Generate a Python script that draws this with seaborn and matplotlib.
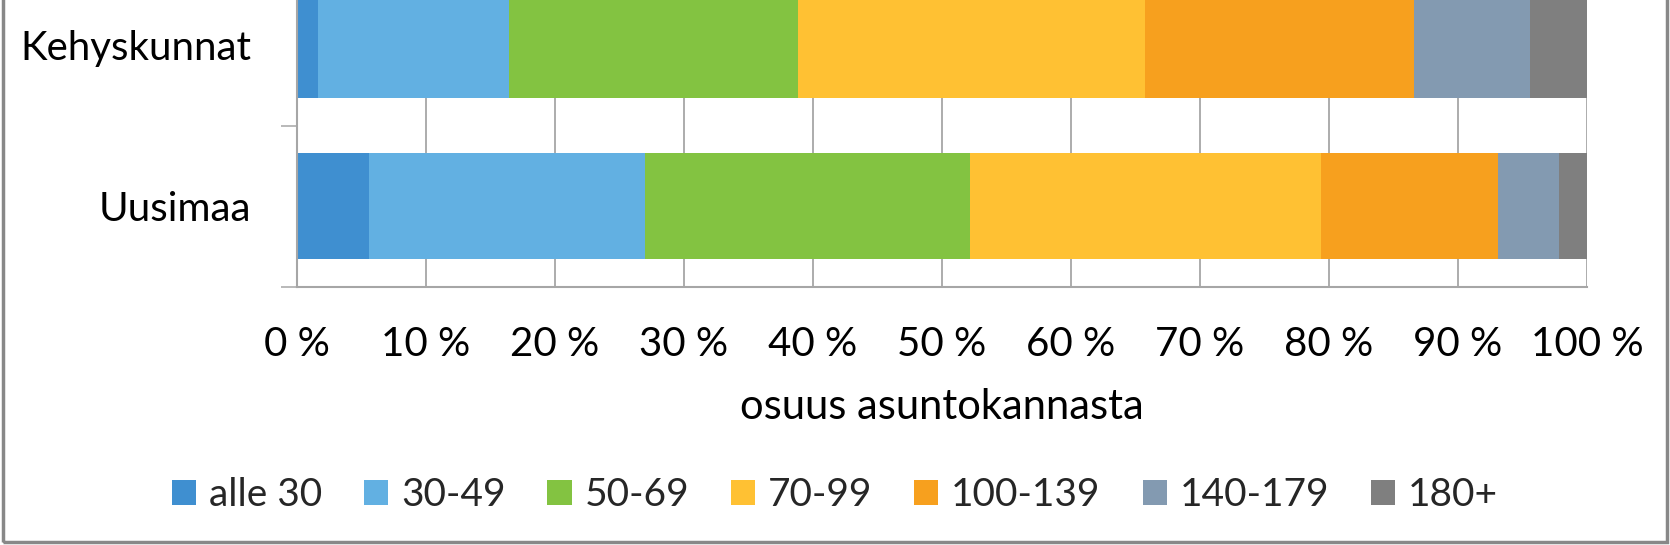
import matplotlib
matplotlib.use("Agg")
import matplotlib.pyplot as plt
import seaborn as sns
import pandas as pd
import numpy as np
from matplotlib.patches import Rectangle, Patch
from matplotlib.ticker import FixedLocator

# ---- data ----
categories = ["Kehyskunnat", "Uusimaa"]
series_names = ["alle 30", "30-49", "50-69", "70-99", "100-139", "140-179", "180+"]
kehyskunnat = [1.6, 14.8, 22.4, 26.9, 20.9, 9.0, 4.4]
uusimaa = [5.6, 21.4, 25.2, 27.2, 13.7, 4.7, 2.2]
colors = ["#3F8FD0", "#62B0E2", "#83C341", "#FFC133", "#F7A01E", "#839AB1", "#7F7F7F"]
xticks = [0, 10, 20, 30, 40, 50, 60, 70, 80, 90, 100]
xlabel = "osuus asuntokannasta"

sns.set_theme(style="white")
plt.rcParams["font.family"] = ["Lato", "DejaVu Sans"]

W, H = 1670, 545
fig = plt.figure(figsize=(W / 100, H / 100), dpi=100)
ax_left = 297 / W
ax_right = 1587 / W
ax_bottom = (H - 286.7) / H
ax = fig.add_axes([ax_left, ax_bottom, ax_right - ax_left, 1 - ax_bottom])

rows = []
for cat, vals in zip(categories, [kehyskunnat, uusimaa]):
    cum = np.cumsum(vals)
    for name, c in zip(series_names, cum):
        rows.append({"cat": cat, "series": name, "cum": c})
df = pd.DataFrame(rows)

# draw from last (largest cumulative) to first so shorter ones overlay
for name, col in reversed(list(zip(series_names, colors))):
    sub = df[df["series"] == name]
    sns.barplot(data=sub, x="cum", y="cat", order=categories, color=col,
                orient="h", width=0.66, linewidth=0, saturation=1, ax=ax)

ax.set_xlim(0, 100)
ax.set_ylim(1.5, -0.281)
ax.set_xticks(xticks)
ax.set_xticklabels([f"{t} %" for t in xticks])
ax.set_yticks([0, 1])
ax.set_yticklabels(categories)
ax.yaxis.set_minor_locator(FixedLocator([-0.5, 0.5, 1.5]))

grid_col = "#A6A6A6"
ax.grid(axis="x", color=grid_col, linewidth=1.3)
ax.set_axisbelow(True)
for s in ["top", "right"]:
    ax.spines[s].set_visible(False)
for s in ["left", "bottom"]:
    ax.spines[s].set_color(grid_col)
    ax.spines[s].set_linewidth(1.5)

ax.tick_params(axis="x", which="major", length=9.5, width=1.1, color=grid_col,
               direction="out", pad=19, labelsize=29, labelcolor="black")
ax.tick_params(axis="y", which="major", length=0, pad=33, labelsize=29,
               labelcolor="black")
ax.tick_params(axis="y", which="minor", length=11.5, width=1.1, color=grid_col,
               direction="out", left=True)
ax.set_xlabel(xlabel, fontsize=30, labelpad=18, color="black")
ax.set_ylabel("")

handles = [Patch(facecolor=c, edgecolor="none", label=n) for n, c in zip(series_names, colors)]
fig.legend(handles=handles, loc="center", bbox_to_anchor=(835 / W, 1 - 495 / H),
           ncol=7, frameon=False, fontsize=28, handlelength=0.62, handleheight=0.6,
           handletextpad=0.33, columnspacing=1.08, borderaxespad=0)

# chart border (top edge cut off)
fig.patches.append(Rectangle((3 / W, 3 / H), (1667 - 3) / W, 1.2,
                             transform=fig.transFigure, fill=False,
                             edgecolor="#888888", linewidth=2.5, clip_on=False))

fig.savefig("out.png", dpi=100)
